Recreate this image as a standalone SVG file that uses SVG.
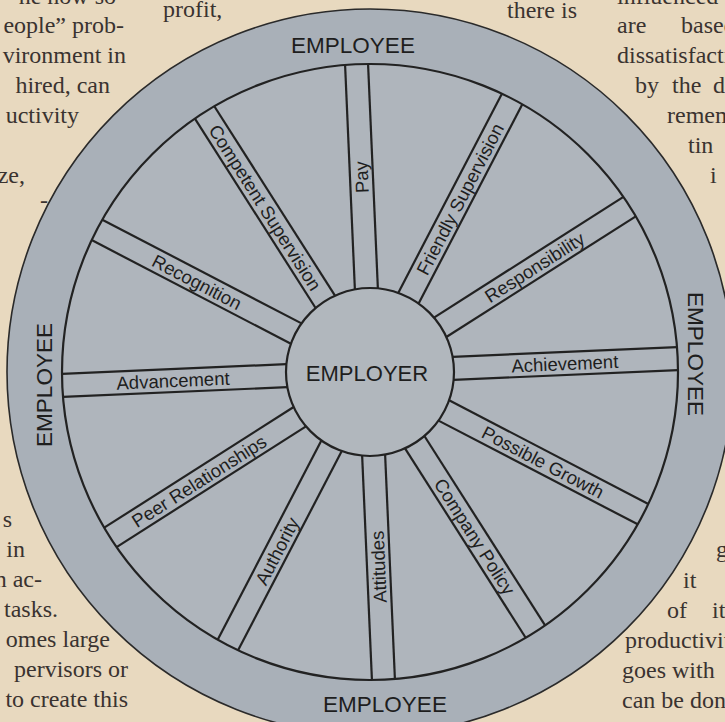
<svg xmlns="http://www.w3.org/2000/svg" width="725" height="722" viewBox="0 0 725 722">
<style>
.page{font-family:"Liberation Serif","Times New Roman",serif;font-size:24px;fill:#3a3330}
.ring{fill:#a9b0b8;stroke:#2a2a2a;stroke-width:1.6}
.inner{fill:#afb5bc;stroke:#222;stroke-width:2.2}
.hub{fill:#b1b7bd;stroke:#222;stroke-width:2.2}
.spoke{stroke:#222;stroke-width:2.2;fill:none}
.big{font-family:"Liberation Sans",Arial,sans-serif;font-size:22.5px;fill:#1e1e1e;text-anchor:middle}
.lbl{font-family:"Liberation Sans",Arial,sans-serif;font-size:18.5px;fill:#1e1e1e;text-anchor:middle}
</style>
<defs>
<g id="band">
<line x1="-11.5" y1="-83.2" x2="-11.5" y2="-307.8"/>
<line x1="11.5" y1="-83.2" x2="11.5" y2="-307.8"/>
</g>
</defs>
<rect width="725" height="722" fill="#e8d9bf"/>
<g id="page-text" class="page">
<text x="116" y="4" text-anchor="end">ne now so</text>
<text x="124" y="33" text-anchor="end">eople” prob-</text>
<text x="126" y="63" text-anchor="end">vironment in</text>
<text x="110" y="93" text-anchor="end">hired, can</text>
<text x="79" y="123" text-anchor="end">uctivity</text>
<text x="25" y="183" text-anchor="end">ze,</text>
<text x="48" y="208" text-anchor="end">-</text>
<text x="12" y="527" text-anchor="end">s</text>
<text x="25" y="557" text-anchor="end">in</text>
<text x="42" y="587" text-anchor="end">n ac-</text>
<text x="58" y="617" text-anchor="end">tasks.</text>
<text x="110" y="647" text-anchor="end">omes  large</text>
<text x="128" y="677" text-anchor="end">pervisors  or</text>
<text x="128" y="707" text-anchor="end">to create this</text>
<text x="163" y="17">profit,</text>
<text x="507" y="18">there is</text>
<text x="617" y="4">influenced</text>
<text y="33"><tspan x="617">are</tspan><tspan x="681">based</tspan></text>
<text x="617" y="63">dissatisfaction</text>
<text y="93"><tspan x="635">by</tspan><tspan x="672">the</tspan><tspan x="713">d</tspan></text>
<text x="667" y="123">remember</text>
<text x="688" y="153">tin</text>
<text x="710" y="183">i</text>
<text x="716" y="557">g</text>
<text x="683" y="588">it</text>
<text y="618"><tspan x="667">of</tspan><tspan x="712">it</tspan></text>
<text x="625" y="648">productivity</text>
<text x="622" y="678">goes with</text>
<text x="622" y="708">can be done</text>
</g>
<g id="employee-ring">
<circle class="ring" cx="370" cy="372" r="363"/>
<text class="big" x="353" y="53">EMPLOYEE</text>
<text class="big" x="385" y="712">EMPLOYEE</text>
<text class="big" transform="translate(52,385) rotate(-90)">EMPLOYEE</text>
<text class="big" transform="translate(688,354) rotate(90)">EMPLOYEE</text>
</g>
<g id="factor-field">
<circle class="inner" cx="370" cy="372" r="308"/>
</g>
<g id="connectors" class="spoke">
<use href="#band" transform="translate(370,372) rotate(-2.5)"/>
<use href="#band" transform="translate(370,372) rotate(27.5)"/>
<use href="#band" transform="translate(370,372) rotate(57.5)"/>
<use href="#band" transform="translate(370,372) rotate(87.5)"/>
<use href="#band" transform="translate(370,372) rotate(117.5)"/>
<use href="#band" transform="translate(370,372) rotate(147.5)"/>
<use href="#band" transform="translate(370,372) rotate(177.5)"/>
<use href="#band" transform="translate(370,372) rotate(207.5)"/>
<use href="#band" transform="translate(370,372) rotate(237.5)"/>
<use href="#band" transform="translate(370,372) rotate(267.5)"/>
<use href="#band" transform="translate(370,372) rotate(297.5)"/>
<use href="#band" transform="translate(370,372) rotate(327.5)"/>
</g>
<g id="pay"><text class="lbl" dy="0.36em" transform="translate(361.5,177.2) rotate(-92.5)">Pay</text></g>
<g id="friendly-supervision"><text class="lbl" dy="0.36em" transform="translate(460,199) rotate(-62.5)">Friendly Supervision</text></g>
<g id="responsibility"><text class="lbl" dy="0.36em" transform="translate(534.5,267.2) rotate(-32.5)">Responsibility</text></g>
<g id="achievement"><text class="lbl" dy="0.36em" transform="translate(564.8,363.5) rotate(-2.5)">Achievement</text></g>
<g id="possible-growth"><text class="lbl" dy="0.36em" transform="translate(543,462) rotate(27.5)">Possible Growth</text></g>
<g id="company-policy"><text class="lbl" dy="0.36em" transform="translate(474.8,536.5) rotate(57.5)">Company Policy</text></g>
<g id="attitudes"><text class="lbl" dy="0.36em" transform="translate(378.5,566.8) rotate(-92.5)">Attitudes</text></g>
<g id="authority"><text class="lbl" dy="0.36em" transform="translate(277,551) rotate(-62.5)">Authority</text></g>
<g id="peer-relationships"><text class="lbl" dy="0.36em" transform="translate(199,481) rotate(-32.5)">Peer Relationships</text></g>
<g id="advancement"><text class="lbl" dy="0.36em" transform="translate(173,380.5) rotate(-2.5)">Advancement</text></g>
<g id="recognition"><text class="lbl" dy="0.36em" transform="translate(197,282) rotate(27.5)">Recognition</text></g>
<g id="competent-supervision"><text class="lbl" dy="0.36em" transform="translate(265.2,207.5) rotate(57.5)">Competent Supervision</text></g>
<g id="employer">
<circle class="hub" cx="370" cy="372" r="84"/>
<text class="big" x="367" y="381" style="font-size:22px">EMPLOYER</text>
</g>
</svg>
